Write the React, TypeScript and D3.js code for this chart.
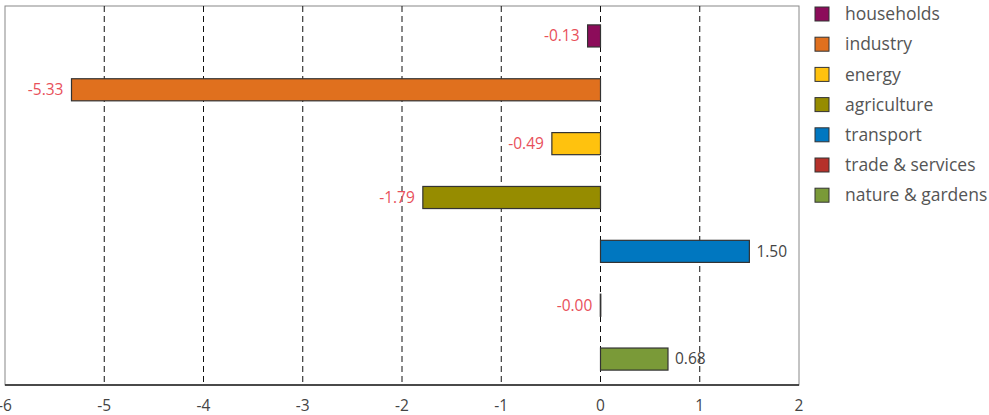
import React from "react";
import * as d3 from "d3";

const categories = ["households", "industry", "energy", "agriculture", "transport", "trade & services", "nature & gardens"];
const values = [-0.13, -5.33, -0.49, -1.79, 1.5, -0.002, 0.68];
const valueLabels = ["-0.13", "-5.33", "-0.49", "-1.79", "1.50", "-0.00", "0.68"];
const colors = ["#8C0C5A", "#E0701E", "#FFC20E", "#968C00", "#0077C0", "#B5312A", "#7A9A38"];
const ticks = [-6, -5, -4, -3, -2, -1, 0, 1, 2];
const tickLabels = ["-6", "-5", "-4", "-3", "-2", "-1", "0", "1", "2"];

const W = 989;
const H = 415;
const FONT = "'Open Sans', 'Noto Sans', sans-serif";

export default function App() {
  const left = 5, right = 799, top = 6, bottom = 385;
  const x = d3.scaleLinear().domain([-6, 2]).range([left, right]);
  const y = d3.scaleBand<string>().domain(categories).range([top + 3, bottom + 1]).paddingInner(0.59).paddingOuter(0.295);
  return (
    <svg width={W} height={H} style={{ position: "absolute", left: 0, top: 0 }} fontFamily={FONT}>
      <rect x={left} y={top} width={right - left} height={bottom - top} fill="#fff" stroke="#888" strokeWidth={1} />
      {ticks.filter(t => t > -6 && t < 2).map(t => (
        <line key={t} x1={x(t)} x2={x(t)} y1={top} y2={bottom} stroke="#111" strokeWidth={1} strokeDasharray="6,4" />
      ))}
      <line x1={left} x2={right} y1={bottom} y2={bottom} stroke="#222" strokeWidth={1.5} />
      {categories.map((c, i) => {
        const v = values[i];
        const x0 = x(Math.min(0, v));
        const w = Math.abs(x(v) - x(0));
        const yy = y(c)!;
        const neg = v < 0;
        return (
          <g key={c}>
            <rect x={x0} y={yy} width={Math.max(w, 0.5)} height={y.bandwidth()} fill={colors[i]} stroke="#333" strokeWidth={1.2} />
            <text x={neg ? x(v) - 8 : x(v) + 7} y={yy + y.bandwidth() / 2} dy="0.35em" textAnchor={neg ? "end" : "start"}
              fontSize={15.5} fill={neg ? "#E8505A" : "#444"}>{valueLabels[i]}</text>
          </g>
        );
      })}
      {ticks.map((t, i) => (
        <text key={t} x={x(t)} y={406} dy="0.35em" textAnchor="middle" fontSize={15.5} fill="#444">{tickLabels[i]}</text>
      ))}
      {categories.map((c, i) => (
        <g key={c} transform={`translate(815, ${14 + i * 30.2})`}>
          <rect x={0} y={-7} width={14} height={14} fill={colors[i]} stroke="#333" strokeWidth={1} />
          <text x={30} y={0} dy="0.35em" fontSize={17.5} fill="#555">{c}</text>
        </g>
      ))}
    </svg>
  );
}
